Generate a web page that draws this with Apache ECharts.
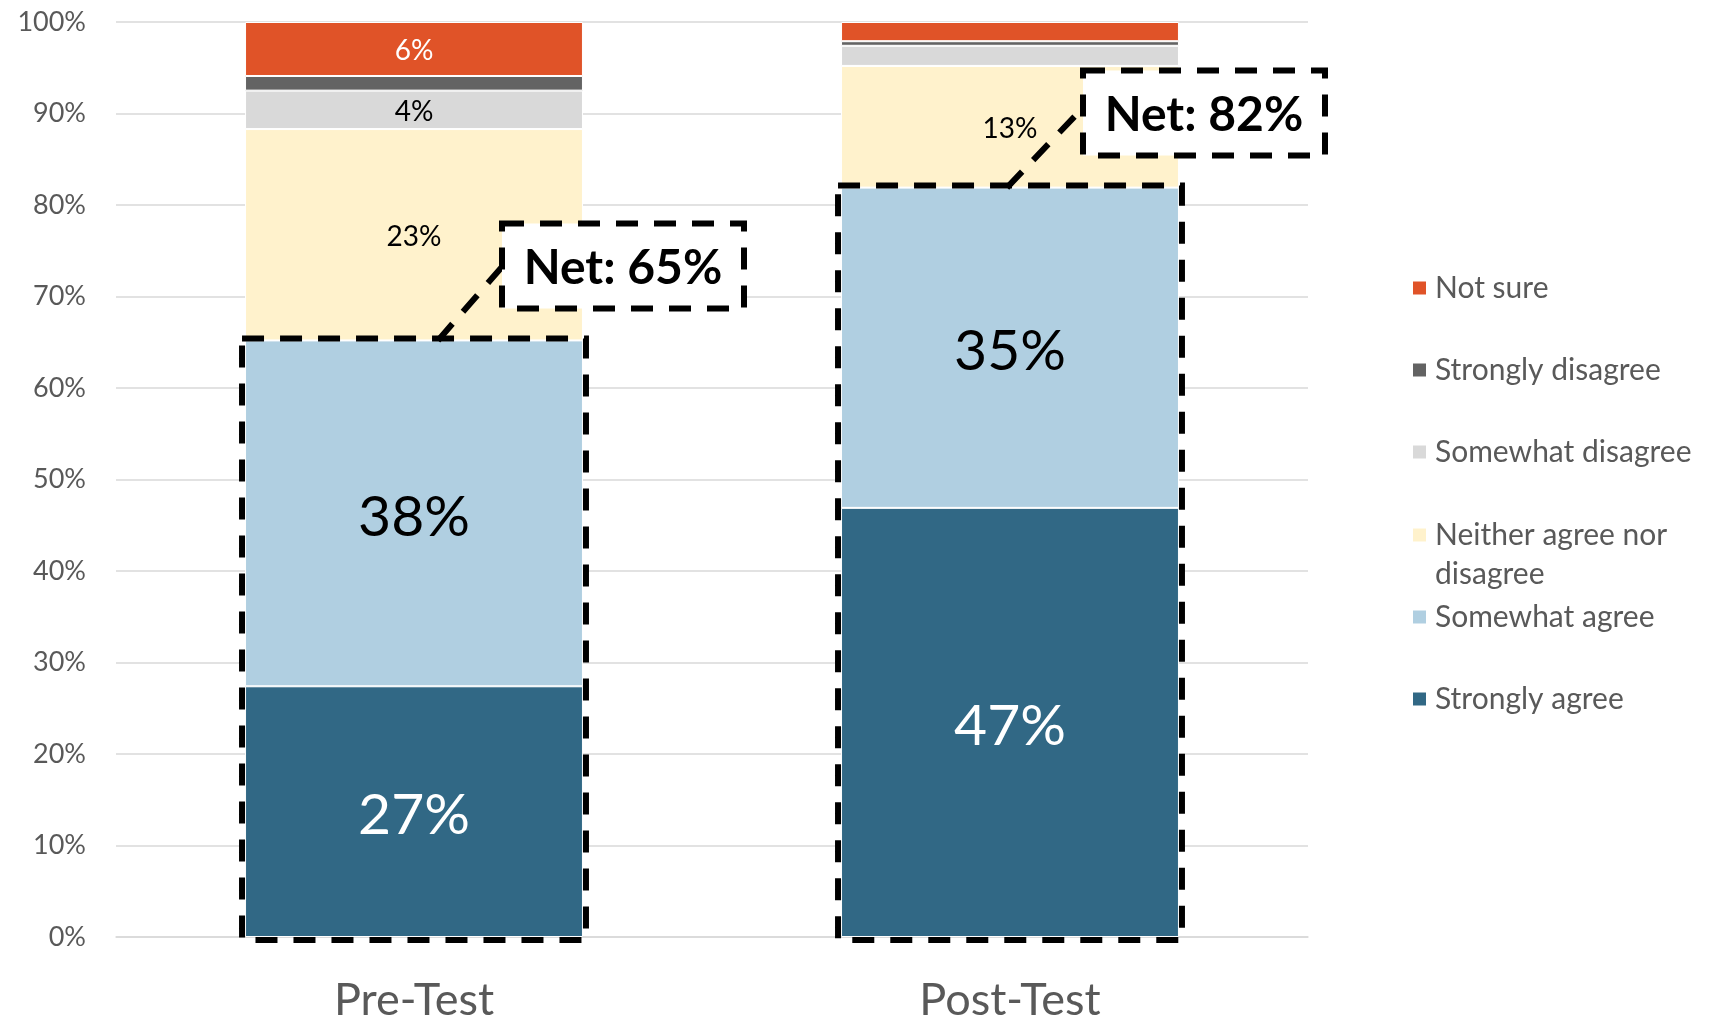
<!DOCTYPE html>
<html><head><meta charset="utf-8">
<script src="https://cdn.jsdelivr.net/npm/echarts@6/dist/echarts.min.js"></script>
<style>html,body{margin:0;padding:0;background:#fff}#c{width:1716px;height:1019px}</style>
</head><body><div id="c"></div>
<script>
// ---- data ----
const categories = ['Pre-Test', 'Post-Test'];
const stronglyAgree = [27.4, 46.9];
const somewhatAgree = [37.8, 35.0];
const neitherAgree = [23.1, 13.3];
const somewhatDisagree = [4.2, 2.2];
const stronglyDisagree = [1.6, 0.5];
const notSure = [5.9, 2.1];
const seriesNames = ['Strongly agree', 'Somewhat agree', 'Neither agree nor disagree', 'Somewhat disagree', 'Strongly disagree', 'Not sure'];
const netValues = categories.map((c, i) => stronglyAgree[i] + somewhatAgree[i]);

// ---- styling / layout ----
const FONT = 'Lato';
const colors = ['#316885', '#B0CFE1', '#FFF2CC', '#D9D9D9', '#636363', '#E05328'];
const labelColors = ['#fff', '#000', '#000', '#000', '#000', '#fff'];
const labelSizes = [57, 57, 28, 28, 28, 28];
const labelShift = [4, 4, 2, 2, 2, 2];
const BAR_FRAC = 0.567;
const calloutLayout = [
  { dx: 88, dy: -117, lx: 24, ex: 3, ey: 40 },
  { dx: 73, dy: -117, lx: -3, ex: 0, ey: 37 }
];
const legendCenters = { 'Not sure': 288, 'Strongly disagree': 370, 'Somewhat disagree': 452,
  'Neither agree nor disagree': 535, 'Somewhat agree': 617, 'Strongly agree': 699 };

const valuesBySeries = [stronglyAgree, somewhatAgree, neitherAgree, somewhatDisagree, stronglyDisagree, notSure];

const barSeries = seriesNames.map((name, k) => ({
  name, type: 'bar', stack: 'total', barWidth: (BAR_FRAC * 100) + '%',
  data: valuesBySeries[k],
  itemStyle: { color: colors[k], borderColor: '#fff', borderWidth: 1 },
  label: {
    show: true, position: 'inside', color: labelColors[k], fontFamily: FONT,
    fontSize: labelSizes[k], offset: [0, labelShift[k]],
    formatter: p => p.value >= 3 ? Math.round(p.value) + '%' : ''
  },
  emphasis: { disabled: true }
}));

const dashStyle = { stroke: '#000', lineWidth: 6, lineDash: [22, 16] };

const netSeries = {
  type: 'custom', name: 'net', z: 10, clip: false, silent: true,
  data: categories.map((c, i) => [i, netValues[i]]),
  renderItem: (params, api) => {
    const i = api.value(0), v = api.value(1);
    const base = api.coord([i, 0]);
    const top = api.coord([i, v]);
    const band = api.size([1, 0])[0];
    const bw = band * BAR_FRAC;
    const cx = base[0];
    const L = calloutLayout[i];
    const boxX = cx + L.dx, boxY = top[1] + L.dy;
    return {
      type: 'group', children: [
        { type: 'rect', shape: { x: cx - bw / 2 - 3, y: top[1] - 2, width: bw + 6, height: base[1] - top[1] + 5 },
          style: Object.assign({ fill: 'none' }, dashStyle) },
        { type: 'line', shape: { x1: cx + L.lx, y1: top[1], x2: boxX + L.ex, y2: boxY + L.ey },
          style: Object.assign({ fill: 'none' }, dashStyle) },
        { type: 'rect', shape: { x: boxX, y: boxY, width: 242, height: 85 },
          style: Object.assign({ fill: '#fff' }, dashStyle) },
        { type: 'text', style: { text: 'Net: ' + Math.round(v) + '%', x: boxX + 121, y: boxY + 45,
            align: 'center', verticalAlign: 'middle', font: 'bold 48px Lato', fill: '#000' } }
      ]
    };
  }
};

const legends = seriesNames.map(name => {
  const two = name === 'Neither agree nor disagree';
  const lh = two ? 39 : 34;
  const blockH = two ? 39 * 3 : 34;
  return {
    data: [name], orient: 'vertical', left: 1411, top: legendCenters[name] - blockH / 2,
    padding: 0, itemWidth: 15, itemHeight: 15, selectedMode: false,
    icon: 'rect',
    formatter: n => two ? ' \nNeither agree nor\ndisagree' : n,
    textStyle: { fontFamily: FONT, fontSize: 30, color: '#595959', lineHeight: lh,
      padding: [0, 0, 0, 3] }
  };
});

const chart = echarts.init(document.getElementById('c'), null, { renderer: 'canvas' });
chart.setOption({
  animation: false,
  backgroundColor: '#fff',
  grid: { left: 116, right: 408, top: 22, bottom: 82, containLabel: false, outerBoundsMode: 'none' },
  legend: legends,
  xAxis: {
    type: 'category', data: categories,
    axisLine: { lineStyle: { color: '#D9D9D9', width: 1.5 } },
    axisTick: { show: false },
    axisLabel: { fontFamily: FONT, fontSize: 45, color: '#595959', margin: 41 }
  },
  yAxis: {
    type: 'value', min: 0, max: 100, interval: 10,
    axisLine: { show: false }, axisTick: { show: false },
    splitLine: { lineStyle: { color: '#D9D9D9', width: 1.5 } },
    axisLabel: { fontFamily: FONT, fontSize: 27, color: '#595959', margin: 30, formatter: v => v + '%' }
  },
  series: barSeries.concat([netSeries])
});
</script></body></html>
